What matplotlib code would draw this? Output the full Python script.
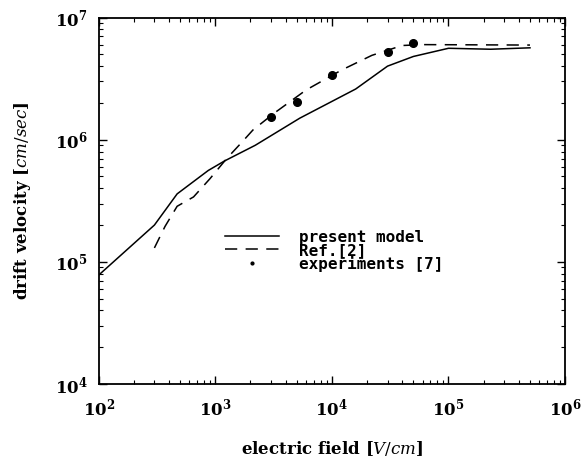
import numpy as np
import matplotlib
matplotlib.use("Agg")
import matplotlib.pyplot as plt
from matplotlib.ticker import LogLocator, FuncFormatter, NullFormatter

plt.rcParams["font.family"] = "DejaVu Serif"
plt.rcParams["mathtext.fontset"] = "dejavuserif"

# present model (solid line)
model_field = [1e2, 3e2, 4.7e2, 8.7e2, 1.2e3, 2.2e3, 5.3e3, 1.6e4, 3.0e4, 5.0e4, 1.0e5, 2.3e5, 5.0e5]
model_vel = [7.8e4, 2.0e5, 3.6e5, 5.6e5, 6.7e5, 9.0e5, 1.5e6, 2.6e6, 4.0e6, 4.8e6, 5.6e6, 5.5e6, 5.65e6]

# Ref.[2] (dashed line)
ref_field = [3e2, 3.7e2, 4.7e2, 6.5e2, 9.0e2, 1.25e3, 1.7e3, 2.1e3, 3.2e3, 6.0e3, 1.2e4, 2.2e4, 4.0e4, 6.0e4, 5.0e5]
ref_vel = [1.3e5, 1.95e5, 2.85e5, 3.4e5, 4.8e5, 7.0e5, 9.6e5, 1.2e6, 1.65e6, 2.55e6, 3.7e6, 4.9e6, 5.9e6, 6.0e6, 5.95e6]

# experiments [7]
exp_field = [3e3, 5e3, 1e4, 3e4, 5e4]
exp_vel = [1.52e6, 2.05e6, 3.38e6, 5.25e6, 6.2e6]

fig = plt.figure(figsize=(5.88, 4.61), dpi=100)
ax = fig.add_axes([0.168, 0.167, 0.793, 0.795])

ax.plot(model_field, model_vel, color="black", lw=1.1, label="present model")
ax.plot(ref_field, ref_vel, color="black", lw=1.1, linestyle=(0, (8, 5.5)), label="Ref.[2]")
ax.plot(exp_field, exp_vel, linestyle="none", marker="o", color="black", markersize=5.5)
# small dot for the legend entry
ax.plot([], [], linestyle="none", marker="o", color="black", markersize=2, label="experiments [7]")

ax.set_xscale("log")
ax.set_yscale("log")
ax.set_xlim(1e2, 1e6)
ax.set_ylim(1e4, 1e7)

def pow_label(v, pos):
    return r"$\mathbf{10^{%d}}$" % int(round(np.log10(v)))

for axis in (ax.xaxis, ax.yaxis):
    axis.set_major_locator(LogLocator(base=10))
    axis.set_minor_locator(LogLocator(base=10, subs=np.arange(2, 10)))
    axis.set_major_formatter(FuncFormatter(pow_label))
    axis.set_minor_formatter(NullFormatter())

ax.tick_params(which="both", direction="in", top=True, right=True, labelsize=12)
ax.tick_params(which="major", length=6, width=1)
ax.tick_params(which="minor", length=3, width=0.8)
ax.tick_params(axis="x", pad=10)
ax.tick_params(axis="y", pad=8)
for s in ax.spines.values():
    s.set_linewidth(1.3)

ax.set_xlabel(r"electric field [$\mathit{V/cm}$]", fontsize=12, fontweight="bold", labelpad=14)
ax.set_ylabel(r"drift velocity [$\mathit{cm/sec}$]", fontsize=12, fontweight="bold", labelpad=16)

ax.legend(loc="upper left", bbox_to_anchor=(0.24, 0.46), frameon=False,
          labelspacing=-0.12, handlelength=3.4, handletextpad=1.2, numpoints=1,
          prop={"family": "DejaVu Sans Mono", "weight": "bold", "size": 11.5})

fig.savefig("out.png", dpi=100)
